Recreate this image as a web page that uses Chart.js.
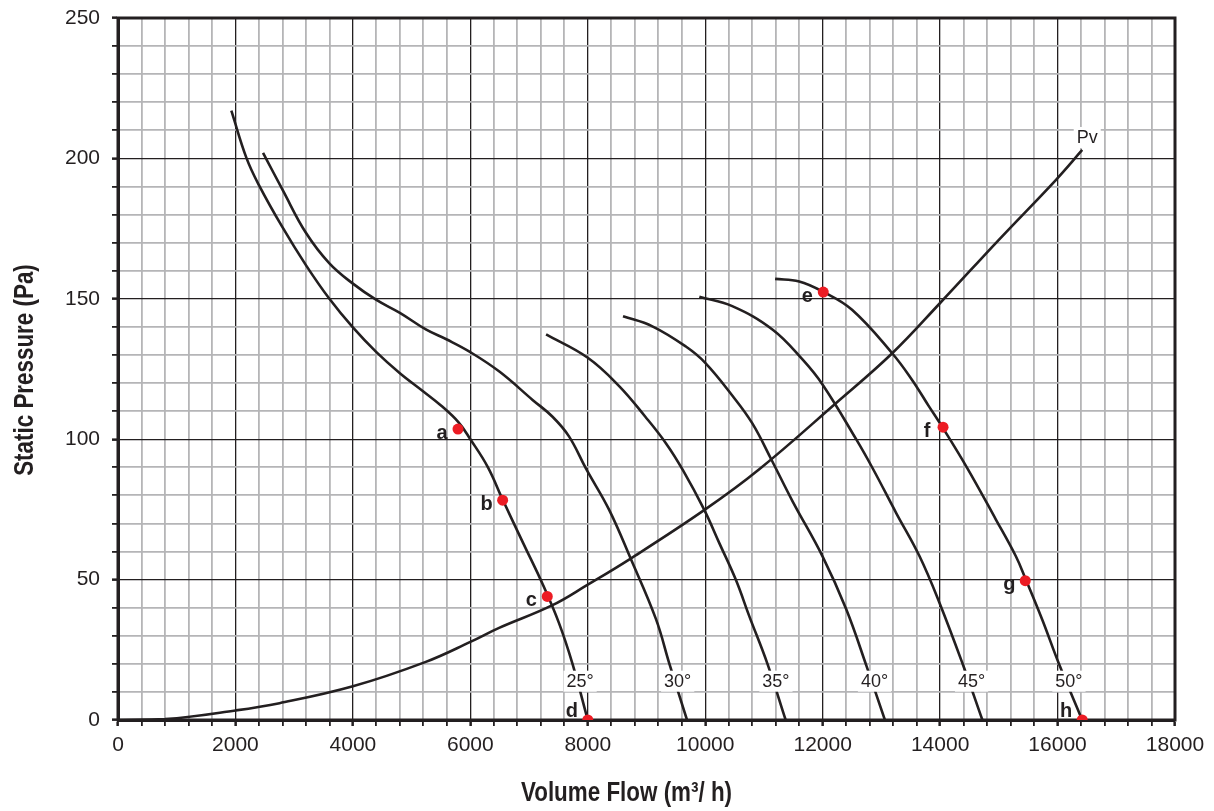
<!DOCTYPE html>
<html>
<head>
<meta charset="utf-8">
<script src="https://cdn.jsdelivr.net/npm/chart.js@4.4.1/dist/chart.umd.min.js"></script>
<style>
  body { margin: 0; background: #fff; }
  canvas { display: block; }
</style>
</head>
<body>
<canvas id="fanChart" width="1214" height="811"></canvas>
<script>
// fan curves: volume flow (m3/h) vs static pressure (Pa), one per blade angle
const angles = ["25°", "30°", "35°", "40°", "45°", "50°"];

const flow25 = [1930, 2190, 2400, 2800, 3200, 3600, 4000, 4400, 4800, 5200, 5500, 5800, 6000, 6300, 6550, 6900, 7240, 7510, 7740, 8000];
const pres25 = [217, 200, 190.5, 175.5, 162, 150, 139.8, 131, 123.5, 117, 112, 106, 100, 90, 78.5, 63, 48, 34.5, 20, 0];

const flow30 = [2470, 2810, 3200, 3600, 4000, 4400, 4800, 5250, 5600, 6000, 6500, 7060, 7400, 7680, 7970, 8360, 8730, 9160, 9390, 9690];
const pres30 = [202, 188.5, 173.5, 162.6, 155.4, 149.6, 145, 139, 135.5, 131, 124, 114, 108, 101, 89.5, 75, 57.5, 36, 20, 0];

const flow35 = [7290, 8000, 8530, 8980, 9330, 9620, 9980, 10240, 10520, 10750, 11060, 11370];
const pres35 = [137.3, 129, 119, 108, 98.6, 89, 75, 63, 50, 37, 20, 0];

const flow40 = [8600, 9100, 9670, 10000, 10470, 10800, 11130, 11490, 12000, 12400, 12750, 13060];
const pres40 = [143.8, 140.2, 133, 127.2, 115.3, 105.7, 92.6, 77.8, 58.2, 39.5, 19, 0];

const flow45 = [9900, 10460, 11150, 11660, 12000, 12570, 12860, 13250, 13650, 13990, 14380, 14720];
const pres45 = [150.7, 147.4, 139, 128.3, 119.4, 100, 89.3, 73.8, 58.3, 41.7, 20.2, 0];

const flow50 = [11190, 11600, 12000, 12500, 13180, 13520, 13810, 14030, 14460, 14950, 15290, 15460, 15740, 16020, 16420];
const pres50 = [157.1, 156.2, 152.6, 146.1, 130.7, 121.2, 111.7, 104.6, 89.8, 71.4, 58.3, 50, 35.7, 20.2, 0];

// dynamic pressure curve Pv
const flowPv = [0, 800, 2000, 2750, 4000, 5230, 6000, 6490, 7390, 8000, 8730, 10000, 10920, 12230, 13180, 14000, 15000, 15970, 16420];
const presPv = [0, 0.3, 3.4, 6, 12, 20.6, 27.8, 32.8, 40.8, 48.2, 57.5, 75, 89.3, 112.9, 130.5, 148.5, 171, 192.3, 203];

// operating points a..h
const pointNames = ["a", "b", "c", "d", "e", "f", "g", "h"];
const pointFlow = [5790, 6550, 7310, 8000, 12010, 14050, 15450, 16420];
const pointPres = [103.6, 78.3, 44, 0, 152.4, 104.3, 49.6, 0];

const INK = "#231f20";
const FONT = "'Liberation Sans', Arial, sans-serif";

const zip = (xs, ys) => xs.map((x, i) => ({ x: x, y: ys[i] }));
const curves = [
  zip(flow25, pres25), zip(flow30, pres30), zip(flow35, pres35),
  zip(flow40, pres40), zip(flow45, pres45), zip(flow50, pres50)
];

function curveDataset(data) {
  return {
    data: data,
    showLine: true,
    borderColor: INK,
    borderWidth: 2.6,
    pointRadius: 0,
    tension: 0.4,
  };
}

// x value where a curve falls to a given pressure
function flowAt(data, p) {
  for (let i = 1; i < data.length; i++) {
    const a = data[i - 1], b = data[i];
    if ((a.y - p) * (b.y - p) <= 0) {
      return a.x + (b.x - a.x) * (a.y - p) / (a.y - b.y);
    }
  }
  return data[data.length - 1].x;
}

function boxLabel(ctx, text, cx, cy) {
  ctx.font = "18px " + FONT;
  const w = ctx.measureText(text).width + 6;
  ctx.fillStyle = "#fff";
  ctx.fillRect(cx - w / 2, cy - 10, w, 21);
  ctx.fillStyle = INK;
  ctx.textAlign = "center";
  ctx.textBaseline = "middle";
  ctx.fillText(text, cx, cy + 1);
}

// bold condensed title, squeezed like Arial Narrow
function narrowTitle(ctx, text, x, y, rot) {
  ctx.save();
  ctx.translate(x, y);
  ctx.rotate(rot);
  ctx.scale(0.8, 1);
  ctx.font = "bold 28px " + FONT;
  ctx.fillStyle = INK;
  ctx.textAlign = "center";
  ctx.textBaseline = "middle";
  ctx.fillText(text, 0, 0);
  ctx.restore();
}

const annotations = {
  id: "annotations",
  beforeDatasetsDraw(chart) {
    const { ctx, chartArea } = chart;
    ctx.save();
    ctx.strokeStyle = INK;
    ctx.lineWidth = 3;
    ctx.strokeRect(chartArea.left, chartArea.top, chartArea.right - chartArea.left, chartArea.bottom - chartArea.top);
    ctx.restore();
  },
  beforeDatasetDraw(chart, args) {
    if (args.index !== 0) return;
    const { ctx, scales } = chart;
    ctx.save();
    curves.forEach((data, i) => {
      const cx = scales.x.getPixelForValue(flowAt(data, 14));
      const cy = scales.y.getPixelForValue(14);
      boxLabel(ctx, angles[i], cx + 3, cy);
    });
    const end = chart.data.datasets[7].data;
    const last = end[end.length - 1];
    boxLabel(ctx, "Pv", scales.x.getPixelForValue(last.x) + 5, scales.y.getPixelForValue(last.y) - 13);
    ctx.restore();
  },
  afterDatasetsDraw(chart) {
    const { ctx, scales, chartArea } = chart;
    ctx.save();
    ctx.font = "bold 20px " + FONT;
    ctx.fillStyle = INK;
    ctx.textAlign = "center";
    ctx.textBaseline = "middle";
    pointNames.forEach((n, i) => {
      const px = scales.x.getPixelForValue(pointFlow[i]);
      const py = scales.y.getPixelForValue(pointPres[i]);
      ctx.fillText(n, px - 16, pointPres[i] === 0 ? py - 9 : py + 4);
    });
    ctx.restore();
    const midX = (chartArea.left + chartArea.right) / 2;
    const midY = (chartArea.top + chartArea.bottom) / 2;
    narrowTitle(ctx, "Volume Flow (m³/ h)", midX - 20, chart.height - 18, 0);
    narrowTitle(ctx, "Static Pressure (Pa)", 25, midY + 1, -Math.PI / 2);
  }
};

new Chart(document.getElementById("fanChart"), {
  type: "scatter",
  data: {
    datasets: [
      {
        data: zip(pointFlow, pointPres),
        pointRadius: 5.5,
        pointBackgroundColor: "#ec1c24",
        pointBorderWidth: 0,
        showLine: false,
      },
      ...curves.map(curveDataset),
      curveDataset(zip(flowPv, presPv)),
    ],
  },
  options: {
    responsive: false,
    animation: false,
    devicePixelRatio: 1,
    layout: { padding: { top: 18, right: 39, left: 0, bottom: 0 } },
    plugins: { legend: { display: false }, tooltip: { enabled: false } },
    scales: {
      x: {
        type: "linear",
        min: 0,
        max: 18000,
        afterFit: (s) => { s.height = 91; s.paddingRight = 0; s.paddingLeft = 0; },
        border: { color: INK, width: 3 },
        grid: {
          color: (c) => (c.tick && c.tick.value % 2000 === 0 ? INK : "#b5b5b7"),
          lineWidth: (c) => (c.tick && c.tick.value % 2000 === 0 ? 1.3 : 1.8),
          tickColor: INK,
          tickWidth: (c) => (c.tick && c.tick.value % 2000 === 0 ? 2.5 : 1.8),
          tickLength: 6,
        },
        ticks: {
          stepSize: 400,
          autoSkip: false,
          maxRotation: 0,
          padding: 7,
          color: INK,
          font: { size: 21, family: FONT },
          callback: (v) => (v % 2000 === 0 ? v : ""),
        },
      },
      y: {
        min: 0,
        max: 250,
        afterFit: (s) => { s.width = 118; s.paddingTop = 0; s.paddingBottom = 0; },
        border: { color: INK, width: 3 },
        grid: {
          color: (c) => (c.tick && c.tick.value % 50 === 0 ? INK : "#b5b5b7"),
          lineWidth: (c) => (c.tick && c.tick.value % 50 === 0 ? 1.3 : 1.8),
          tickColor: INK,
          tickWidth: (c) => (c.tick && c.tick.value % 50 === 0 ? 2.5 : 1.8),
          tickLength: 6,
        },
        ticks: {
          stepSize: 10,
          autoSkip: false,
          padding: 12,
          color: INK,
          font: { size: 21, family: FONT },
          callback: (v) => (v % 50 === 0 ? v : ""),
        },
      },
    },
  },
  plugins: [annotations],
});
</script>
</body>
</html>
